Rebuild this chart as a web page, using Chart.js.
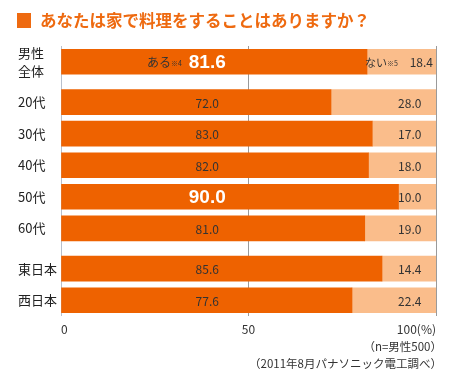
<!DOCTYPE html>
<html>
<head>
<meta charset="utf-8">
<script src="https://cdn.jsdelivr.net/npm/chart.js@4"></script>
<style>
  html, body { margin: 0; padding: 0; background: #fff; }
  #wrap { width: 460px; height: 378px; }
</style>
</head>
<body>
<div id="wrap"><canvas id="myChart"></canvas></div>
<script>
// data
const titleText = 'あなたは家で料理をすることはありますか？';
const groups = [['男性\n全体'], ['20代', '30代', '40代', '50代', '60代'], ['東日本', '西日本']];
const yesValues = [81.6, 72.0, 83.0, 82.0, 90.0, 81.0, 85.6, 77.6];
const noValues = [18.4, 28.0, 17.0, 18.0, 10.0, 19.0, 14.4, 22.4];
const xTicks = [0, 50, 100];
const notes = ['（n=男性500）', '（2011年8月パナソニック電工調べ）'];

const FONT = "'Noto Sans CJK JP', 'Noto Sans', sans-serif";
const DARK = '#ee6200';
const LIGHT = '#fabd8b';
const highlight = [0, 4];

// rows of one group sit 1 apart, groups are split by a small extra gap
const groupGap = 0.28;
const labels = [];
const rowPos = [];
let pos = 0;
groups.forEach((g, gi) => {
  if (gi) pos += groupGap;
  g.forEach(c => { labels.push(c); rowPos.push(pos); pos += 1; });
});

// labels inside the bars, title and notes
const barLabels = {
  id: 'barLabels',
  afterDatasetsDraw(chart) {
    const { ctx, scales: { x } } = chart;
    const yes = chart.getDatasetMeta(0).data;
    const no = chart.getDatasetMeta(1).data;
    const xYes = x.getPixelForValue(39);
    const xNo = x.getPixelForValue(93);
    ctx.save();
    ctx.textBaseline = 'middle';
    yes.forEach((bar, i) => {
      const y = bar.y + 1;
      ctx.textAlign = 'center';
      if (highlight.includes(i)) {
        ctx.fillStyle = '#fff';
        ctx.font = "bold 19px 'Liberation Sans', Arial, sans-serif";
      } else {
        ctx.fillStyle = '#333';
        ctx.font = '12px ' + FONT;
      }
      ctx.fillText(yesValues[i].toFixed(1), xYes, y);
      if (i === 0) {
        ctx.fillStyle = '#333';
        ctx.textAlign = 'right';
        ctx.font = '7px ' + FONT;
        ctx.fillText('※4', 182, y + 1);
        ctx.font = '12px ' + FONT;
        ctx.fillText('ある', 171, y);
      }
    });
    no.forEach((bar, i) => {
      const y = bar.y + 1;
      ctx.fillStyle = '#333';
      ctx.font = '12px ' + FONT;
      if (i === 0) {
        ctx.textAlign = 'right';
        ctx.fillText(noValues[i].toFixed(1), 433, y);
        ctx.font = '7px ' + FONT;
        ctx.fillText('※5', 398, y + 1);
        ctx.font = '11px ' + FONT;
        ctx.fillText('ない', 387, y);
      } else {
        ctx.textAlign = 'center';
        ctx.fillText(noValues[i].toFixed(1), xNo, y);
      }
    });
    ctx.restore();
  },
  afterDraw(chart) {
    const ctx = chart.ctx;
    ctx.save();
    ctx.fillStyle = '#ee6a10';
    ctx.fillRect(17, 13, 14, 15);
    ctx.font = 'bold 16.5px ' + FONT;
    ctx.textBaseline = 'middle';
    ctx.textAlign = 'left';
    ctx.fillText(titleText, 40, 21);
    ctx.fillStyle = '#333';
    ctx.font = '11.5px ' + FONT;
    ctx.textAlign = 'right';
    ctx.fillText(notes[0], 442, 347);
    ctx.fillText(notes[1], 442, 364);
    ctx.restore();
  }
};

const ctx = document.getElementById('myChart').getContext('2d');
const myChart = new Chart(ctx, {
  type: 'bar',
  data: {
    datasets: [
      {
        label: 'ある',
        data: yesValues.map((v, i) => ({ x: v, y: rowPos[i] })),
        backgroundColor: DARK,
        barThickness: 25
      },
      {
        label: 'ない',
        data: noValues.map((v, i) => ({ x: v, y: rowPos[i] })),
        backgroundColor: LIGHT,
        barThickness: 25
      }
    ]
  },
  options: {
    indexAxis: 'y',
    responsive: true,
    maintainAspectRatio: false,
    animation: false,
    layout: { padding: { top: 46, left: 18, right: 24, bottom: 42 } },
    plugins: {
      legend: { display: false },
      tooltip: { enabled: false }
    },
    scales: {
      x: {
        type: 'linear',
        stacked: true,
        min: 0,
        max: 100,
        afterBuildTicks: s => { s.ticks = xTicks.map(v => ({ value: v })); },
        afterFit: s => { s.height = 20; },
        ticks: {
          align: 'inner',
          padding: 6,
          color: '#333',
          font: { family: FONT, size: 12 },
          callback: v => (v === 100 ? '100(%)' : v)
        },
        grid: {
          color: c => (c.tick && c.tick.value === 0 ? '#b8c0cc' : '#9a9a9a'),
          drawTicks: false
        },
        border: { display: false }
      },
      y: {
        type: 'linear',
        stacked: true,
        reverse: true,
        offset: false,
        min: -0.5,
        max: pos - 0.5,
        afterBuildTicks: s => { s.ticks = rowPos.map(v => ({ value: v })); },
        afterFit: s => { s.width = 43; },
        ticks: {
          autoSkip: false,
          crossAlign: 'far',
          padding: 0,
          color: '#222',
          font: { family: FONT, size: 13, lineHeight: 1.4 },
          callback: (v, i) => labels[i].split('\n')
        },
        grid: { display: false, drawTicks: false, offset: false },
        border: { display: false }
      }
    }
  },
  plugins: [barLabels]
});
</script>
</body>
</html>
